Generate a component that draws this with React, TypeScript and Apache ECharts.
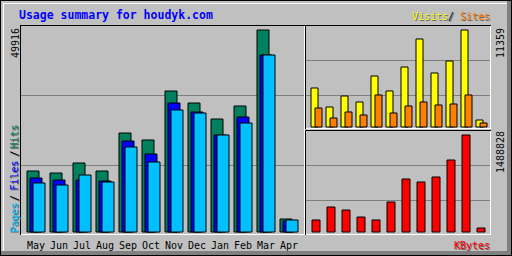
import React, { useEffect, useRef } from "react";
import * as echarts from "echarts";

const months = ["May", "Jun", "Jul", "Aug", "Sep", "Oct", "Nov", "Dec", "Jan", "Feb", "Mar", "Apr"];
const hits = [15245, 14753, 17212, 15245, 24589, 22868, 34916, 31966, 28031, 31228, 49916, 3442];
const files = [13524, 13032, 13032, 12786, 22622, 19425, 31966, 29753, 24097, 28523, 43769, 2951];
const pages = [12295, 11803, 14261, 12540, 21147, 17458, 30245, 29507, 24097, 27048, 43769, 3197];
const visits = [4636, 2434, 3709, 3014, 6027, 4289, 7070, 10316, 6375, 7766, 11359, 927];
const sites = [2318, 1159, 1855, 1507, 3825, 1739, 2550, 3014, 2666, 2782, 3825, 580];
const kbytes = [197500, 395000, 349400, 243000, 197500, 470950, 820370, 774800, 850760, 1109000, 1488828, 75960];
const maxHits = 49916;
const maxVisits = 11359;
const maxKbytes = 1488828;
const title = "Usage summary for houdyk.com";

const mono = "'DejaVu Sans Mono', monospace";
const SHADOW = "#606060";

type TOpts = { rot?: number; fs?: number; bold?: boolean; align?: string };
function txt(text: string, x: number, y: number, fill: string, o: TOpts = {}) {
  return {
    type: "text",
    x,
    y,
    rotation: o.rot || 0,
    silent: true,
    style: {
      text,
      fill,
      fontFamily: mono,
      fontSize: o.fs || 10,
      fontWeight: o.bold ? "bold" : "normal",
      align: o.align || "left",
      verticalAlign: "middle",
    },
  };
}
function stxt(text: string, x: number, y: number, fill: string, o: TOpts = {}) {
  return [txt(text, x + 1, y + 1, SHADOW, o), txt(text, x, y, fill, o)];
}
function ln(x1: number, y1: number, x2: number, y2: number, stroke: string) {
  return { type: "line", silent: true, shape: { x1, y1, x2, y2 }, style: { stroke, lineWidth: 1 } };
}
function box(x: number, y: number, width: number, height: number, fill: string) {
  return { type: "rect", silent: true, shape: { x, y, width, height }, style: { fill } };
}

export default function App() {
  const ref = useRef<HTMLDivElement>(null);
  useEffect(() => {
    document.body.style.margin = "0";
    if (!ref.current) return;
    const chart = echarts.init(ref.current, null, { renderer: "svg" });
    const up = Math.PI / 2;
    const graphic: any[] = [
      // outer 3D border
      box(507, 1, 4, 254, "#808080"),
      box(1, 251, 510, 4, "#808080"),
      ln(3, 3.5, 507, 3.5, "#ffffff"),
      ln(3.5, 3, 3.5, 251, "#ffffff"),
      ln(0, 0.5, 512, 0.5, "#000000"),
      ln(0.5, 0, 0.5, 256, "#000000"),
      ln(511.5, 0, 511.5, 256, "#000000"),
      ln(0, 255.5, 512, 255.5, "#000000"),
      // left panel
      ln(20, 25.5, 305, 25.5, "#000000"),
      ln(20.5, 25, 20.5, 235, "#000000"),
      ln(21, 234.5, 305, 234.5, "#ffffff"),
      ln(304.5, 26, 304.5, 235, "#ffffff"),
      ln(21, 95.5, 304, 95.5, "#808080"),
      ln(21, 165.5, 304, 165.5, "#808080"),
      // upper right panel
      ln(305, 25.5, 491, 25.5, "#000000"),
      ln(305.5, 25, 305.5, 129, "#000000"),
      ln(306, 128.5, 491, 128.5, "#ffffff"),
      ln(490.5, 26, 490.5, 129, "#ffffff"),
      ln(306, 60.5, 490, 60.5, "#808080"),
      ln(306, 95.5, 490, 95.5, "#808080"),
      // lower right panel
      ln(305, 130.5, 491, 130.5, "#000000"),
      ln(305.5, 130, 305.5, 235, "#000000"),
      ln(306, 234.5, 491, 234.5, "#ffffff"),
      ln(490.5, 131, 490.5, 235, "#ffffff"),
      ln(306, 165.5, 490, 165.5, "#808080"),
      ln(306, 200.5, 490, 200.5, "#808080"),
      // texts
      txt(title, 19, 15, "#0000ff", { fs: 11.5, bold: true }),
      ...stxt("Visits", 412, 16.5, "#ffff00"),
      ...stxt("/", 448, 16.5, "#000000"),
      ...stxt("Sites", 460, 16.5, "#ff8000"),
      ...stxt("KBytes", 454, 245.5, "#ff0000"),
      txt(String(maxHits), 15.5, 58, "#000000", { rot: up }),
      txt(String(maxVisits), 500.5, 58, "#000000", { rot: up }),
      txt(String(maxKbytes), 500.5, 173, "#000000", { rot: up }),
      ...stxt("Pages", 14.5, 232.5, "#00c0ff", { rot: up }),
      ...stxt("/", 14.5, 201, "#000000", { rot: up }),
      ...stxt("Files", 14.5, 190.5, "#0000ff", { rot: up }),
      ...stxt("/", 14.5, 156.5, "#000000", { rot: up }),
      ...stxt("Hits", 14.5, 148.5, "#00805c", { rot: up }),
    ];
    const barStyle = (c: string) => ({ color: c, borderColor: "#000000", borderWidth: 1 });
    chart.setOption({
      animation: false,
      backgroundColor: "#c0c0c0",
      graphic: { elements: graphic },
      grid: [
        { left: 24.5, top: 29.5, width: 276, height: 203 },
        { left: 309, top: 29.5, width: 180, height: 98 },
        { left: 308.5, top: 134.5, width: 180, height: 98 },
      ],
      xAxis: [
        {
          type: "category",
          gridIndex: 0,
          data: months,
          axisLine: { show: false },
          axisTick: { show: false },
          splitLine: { show: false },
          axisLabel: { color: "#000000", fontFamily: mono, fontSize: 10, margin: 8, interval: 0 },
        },
        { type: "category", gridIndex: 1, data: months, show: false },
        { type: "category", gridIndex: 2, data: months, show: false },
      ],
      yAxis: [
        { type: "value", gridIndex: 0, min: 0, max: maxHits, show: false, splitLine: { show: false } },
        { type: "value", gridIndex: 1, min: 0, max: maxVisits, show: false, splitLine: { show: false } },
        { type: "value", gridIndex: 2, min: 0, max: maxKbytes, show: false, splitLine: { show: false } },
      ],
      series: [
        { name: "Hits", type: "bar", xAxisIndex: 0, yAxisIndex: 0, data: hits, barWidth: 13, barGap: "-76.923%", itemStyle: barStyle("#00805c") },
        { name: "Files", type: "bar", xAxisIndex: 0, yAxisIndex: 0, data: files, barWidth: 13, barGap: "-76.923%", itemStyle: barStyle("#0000ff") },
        { name: "Pages", type: "bar", xAxisIndex: 0, yAxisIndex: 0, data: pages, barWidth: 13, barGap: "-76.923%", itemStyle: barStyle("#00c0ff") },
        { name: "Visits", type: "bar", xAxisIndex: 1, yAxisIndex: 1, data: visits, barWidth: 8, barGap: "-50%", itemStyle: barStyle("#ffff00") },
        { name: "Sites", type: "bar", xAxisIndex: 1, yAxisIndex: 1, data: sites, barWidth: 8, barGap: "-50%", itemStyle: barStyle("#ff8000") },
        { name: "KBytes", type: "bar", xAxisIndex: 2, yAxisIndex: 2, data: kbytes, barWidth: 9, itemStyle: barStyle("#ff0000") },
      ],
    });
    return () => chart.dispose();
  }, []);
  return <div ref={ref} style={{ width: 512, height: 256 }} />;
}
